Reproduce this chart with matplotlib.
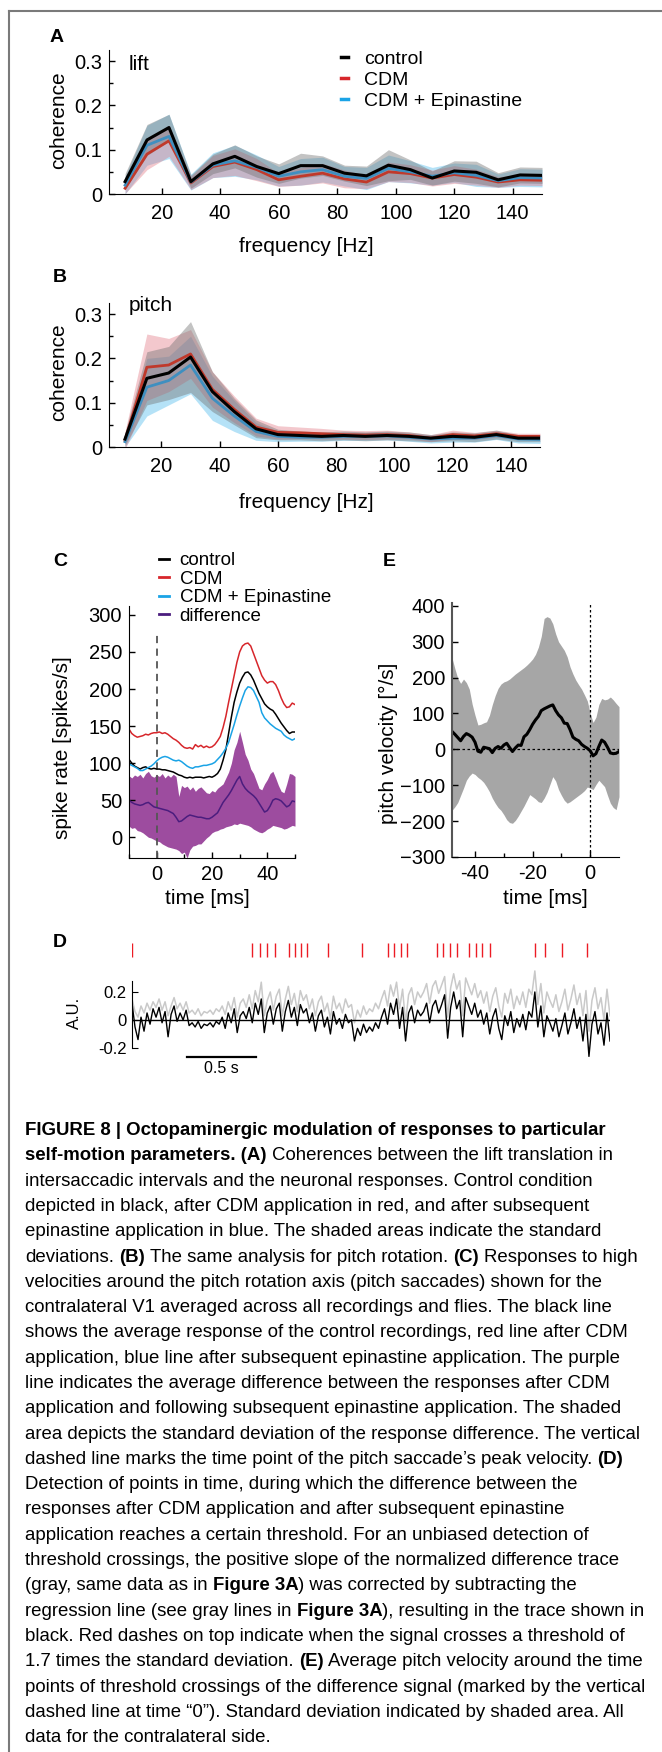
import numpy as np
import matplotlib
matplotlib.use("Agg")
import matplotlib.pyplot as plt
from matplotlib.lines import Line2D
from matplotlib.font_manager import FontProperties

W, H = 662, 1752
FAMILY = ["Liberation Sans", "DejaVu Sans"]
plt.rcParams["font.family"] = FAMILY

# ---- panels A / B: coherence vs frequency
freq = [7.5, 15, 22.5, 30, 37.5, 45, 52.5, 60, 67.5, 75,
        82.5, 90, 97.5, 105, 112.5, 120, 127.5, 135, 142.5, 150]

lift_control = [0.028, 0.122, 0.150, 0.028, 0.068, 0.085, 0.062, 0.046, 0.064, 0.064,
                0.047, 0.041, 0.065, 0.055, 0.036, 0.052, 0.049, 0.032, 0.043, 0.042]
lift_cdm = [0.013, 0.090, 0.120, 0.025, 0.062, 0.072, 0.055, 0.032, 0.040, 0.047,
            0.034, 0.027, 0.050, 0.046, 0.036, 0.044, 0.038, 0.027, 0.032, 0.031]
lift_epi = [0.020, 0.110, 0.130, 0.027, 0.065, 0.075, 0.060, 0.040, 0.050, 0.055,
            0.040, 0.035, 0.058, 0.050, 0.040, 0.048, 0.042, 0.030, 0.037, 0.036]
lift_sd_control = [0.018, 0.035, 0.030, 0.015, 0.022, 0.026, 0.024, 0.022, 0.028, 0.022,
                   0.018, 0.022, 0.035, 0.022, 0.016, 0.023, 0.025, 0.016, 0.018, 0.018]
lift_sd_cdm = [0.012, 0.035, 0.035, 0.015, 0.025, 0.030, 0.025, 0.015, 0.020, 0.022,
               0.020, 0.015, 0.022, 0.020, 0.018, 0.020, 0.018, 0.012, 0.012, 0.012]
lift_sd_epi = [0.020, 0.045, 0.050, 0.018, 0.028, 0.035, 0.028, 0.022, 0.030, 0.028,
               0.022, 0.025, 0.030, 0.025, 0.020, 0.022, 0.025, 0.015, 0.020, 0.020]

pitch_control = [0.018, 0.155, 0.167, 0.203, 0.125, 0.080, 0.041, 0.028, 0.026, 0.024,
                 0.026, 0.024, 0.026, 0.024, 0.020, 0.024, 0.022, 0.028, 0.020, 0.020]
pitch_cdm = [0.015, 0.180, 0.185, 0.210, 0.130, 0.085, 0.045, 0.033, 0.032, 0.030,
             0.028, 0.027, 0.028, 0.026, 0.020, 0.028, 0.025, 0.030, 0.024, 0.024]
pitch_epi = [0.012, 0.135, 0.150, 0.185, 0.110, 0.070, 0.035, 0.024, 0.022, 0.022,
             0.024, 0.024, 0.025, 0.022, 0.018, 0.020, 0.020, 0.026, 0.018, 0.017]
pitch_sd_control = [0.015, 0.060, 0.060, 0.080, 0.045, 0.030, 0.020, 0.012, 0.010, 0.010,
                    0.010, 0.010, 0.010, 0.010, 0.008, 0.010, 0.010, 0.010, 0.008, 0.008]
pitch_sd_cdm = [0.020, 0.075, 0.060, 0.055, 0.040, 0.030, 0.020, 0.015, 0.013, 0.012,
                0.010, 0.010, 0.010, 0.008, 0.008, 0.010, 0.008, 0.008, 0.007, 0.007]
pitch_sd_epi = [0.012, 0.065, 0.055, 0.065, 0.050, 0.035, 0.020, 0.012, 0.009, 0.009,
                0.009, 0.009, 0.009, 0.009, 0.009, 0.009, 0.009, 0.009, 0.009, 0.009]

# ---- panel C: spike rate around pitch saccades, 1 ms steps from -10 to 50 ms
c_time = np.arange(-10, 51)
c_control = [105, 100, 96, 94, 92, 94, 95, 93, 92, 93,
             92, 92, 91, 91, 90, 89, 88, 86, 84, 83,
             81, 80, 81, 80, 81, 81, 81, 80, 81, 82,
             81, 83, 86, 92, 104, 118, 140, 162, 182, 196,
             208, 216, 222, 223, 219, 212, 203, 194, 187, 180,
             176, 173, 171, 166, 160, 154, 149, 144, 140, 142, 142]
c_cdm = [146, 140, 137, 135, 136, 137, 139, 138, 140, 141,
         141, 142, 140, 141, 139, 136, 133, 131, 128, 124,
         121, 120, 121, 119, 125, 122, 124, 121, 123, 121,
         122, 125, 130, 136, 148, 163, 182, 200, 218, 236,
         250, 258, 261, 262, 258, 248, 238, 228, 218, 212,
         208, 210, 210, 206, 198, 188, 180, 175, 176, 181, 179]
c_epi = [99, 97, 95, 93, 90, 90, 92, 94, 96, 99,
         103, 106, 108, 109, 108, 106, 104, 103, 104, 102,
         99, 96, 94, 93, 95, 95, 96, 97, 97, 98,
         99, 101, 105, 109, 114, 120, 128, 140, 152, 165,
         177, 188, 198, 203, 202, 198, 190, 182, 168, 161,
         157, 153, 150, 147, 145, 143, 138, 135, 133, 131, 133]
c_diff = [50, 47, 45, 44, 43, 44, 46, 47, 44, 41,
          40, 39, 38, 37, 36, 34, 32, 27, 21, 22,
          25, 28, 30, 29, 28, 27, 27, 26, 25, 25,
          27, 30, 33, 40, 47, 52, 57, 63, 70, 77,
          82, 72, 66, 62, 59, 56, 52, 46, 40, 34,
          36, 42, 50, 52, 51, 49, 45, 41, 43, 49, 48]
c_diff_hi = [83, 80, 84, 82, 85, 80, 86, 89, 83, 81,
             84, 82, 86, 80, 84, 81, 85, 82, 55, 70,
             67, 69, 64, 68, 62, 66, 68, 64, 60, 59,
             63, 61, 66, 69, 72, 80, 88, 100, 118, 128,
             143, 128, 112, 104, 92, 86, 76, 66, 64, 72,
             78, 86, 89, 80, 70, 62, 60, 72, 86, 85, 82]
c_diff_lo = [15, 12, 13, 9, 8, 6, 3, 0, -1, -3,
             -5, -6, -9, -11, -13, -14, -15, -16, -18, -22,
             -20, -28, -17, -12, -11, -9, -9, -5, -1, 2,
             6, 8, 9, 11, 12, 14, 15, 16, 18, 17,
             19, 18, 17, 16, 14, 11, 9, 7, 6, 8,
             11, 13, 16, 15, 14, 13, 11, 12, 14, 16, 15]

# ---- panel E: pitch velocity around threshold crossings, 1 ms steps from -48 to 10 ms
e_time = np.arange(-48, 11)
e_mean = [50, 42, 33, 24, 36, 44, 40, 34, 20, -5,
          -8, 6, 4, 2, -9, 3, 8, 3, 12, 17,
          5, -6, 4, 12, 11, 35, 42, 55, 70, 82,
          92, 108, 113, 117, 121, 124, 108, 96, 88, 73,
          72, 55, 34, 28, 24, 14, 8, 3, -4, -18,
          -12, 8, 26, 20, 6, -10, -12, -11, -6]
e_upper = [255, 225, 198, 184, 196, 186, 168, 126, 95, 68,
           70, 74, 77, 95, 125, 150, 170, 182, 188, 191,
           196, 203, 210, 216, 222, 228, 235, 243, 252, 265,
           285, 315, 365, 370, 366, 350, 322, 300, 288, 276,
           258, 230, 210, 193, 180, 168, 152, 135, 100, 75,
           90, 125, 142, 138, 140, 146, 138, 128, 119]
e_lower = [-170, -160, -148, -128, -108, -86, -74, -66, -70, -78,
           -84, -92, -104, -118, -136, -150, -162, -170, -182, -196,
           -204, -206, -198, -186, -172, -158, -142, -126, -132, -138,
           -146, -148, -136, -120, -98, -76, -88, -112, -128, -142,
           -150, -146, -140, -134, -128, -122, -115, -105, -108, -112,
           -98, -86, -95, -104, -128, -150, -162, -168, -132]

# ---- panel D: normalized difference trace (gray) and detrended trace (black)
d_black = [0.12, -0.05, -0.14, 0.02, -0.08, 0.05, -0.03, 0.08,
           0.02, 0.09, -0.02, 0.06, -0.12, 0.04, 0.10, -0.01, 0.05, 0.00, 0.07,
           -0.04, -0.02, -0.05, -0.01, -0.06, -0.03, -0.04, -0.02, -0.05, -0.01, -0.03,
           0.02, -0.06, 0.05, -0.02, 0.08, -0.09, 0.03,
           0.06, 0.01, 0.09, -0.02, 0.12, 0.04, 0.15,
           -0.09, 0.05, 0.10, -0.03, 0.08,
           0.12, -0.08, 0.06, 0.14, 0.02, 0.09, -0.04, 0.11, 0.05, 0.08,
           -0.02, 0.05, -0.08, 0.03, 0.07, -0.05, 0.02, -0.10, 0.06, -0.03, 0.01, -0.06, 0.04, -0.02, 0.00,
           -0.15, -0.06, -0.11, -0.03, -0.09, -0.05,
           -0.08, -0.02, -0.06, 0.02,
           0.08, -0.03, 0.12, 0.04, 0.15, -0.06, 0.09, -0.15, 0.05, 0.10, -0.02, 0.07, 0.03,
           0.06, 0.12, -0.02, 0.10, 0.14, 0.05, 0.11, 0.18, -0.13, 0.09,
           0.20, 0.08, 0.14, -0.12, 0.16, 0.10, 0.04, 0.12, 0.02, 0.07,
           -0.03, 0.05, -0.10, 0.02, 0.08, -0.06, -0.14, 0.03, -0.04, 0.06, -0.09, 0.01, -0.05, 0.04,
           -0.07, 0.06, 0.02, 0.20, -0.05, 0.10, -0.12, 0.03, -0.02,
           -0.08, 0.01, -0.12, -0.04, 0.05, -0.10, -0.02, 0.08, -0.06, 0.02,
           -0.15, 0.04, -0.26, -0.03, 0.06, -0.10, -0.02, -0.18, 0.05, -0.15]
d_gray = [0.15, 0.06, 0.02, 0.10, 0.05, 0.12, 0.07, 0.13,
          0.09, 0.15, 0.07, 0.13, 0.03, 0.10, 0.16, 0.08, 0.12, 0.07, 0.13,
          0.05, 0.07, 0.04, 0.08, 0.03, 0.06, 0.05, 0.07, 0.04, 0.08, 0.06,
          0.10, 0.04, 0.13, 0.07, 0.16, 0.02, 0.12,
          0.15, 0.09, 0.18, 0.08, 0.21, 0.13, 0.27,
          0.03, 0.14, 0.20, 0.07, 0.17,
          0.22, 0.03, 0.15, 0.24, 0.11, 0.19, 0.06, 0.21, 0.14, 0.18,
          0.08, 0.15, 0.03, 0.13, 0.17, 0.06, 0.12, 0.01, 0.17, 0.08, 0.12, 0.05, 0.15, 0.09, 0.11,
          -0.02, 0.07, 0.02, 0.10, 0.04, 0.08,
          0.06, 0.12, 0.08, 0.15,
          0.21, 0.10, 0.25, 0.17, 0.27, 0.08, 0.22, -0.02, 0.18, 0.23, 0.11, 0.20, 0.16,
          0.20, 0.26, 0.12, 0.24, 0.28, 0.19, 0.25, 0.31, 0.02, 0.23,
          0.33, 0.22, 0.28, 0.03, 0.30, 0.24, 0.18, 0.26, 0.16, 0.21,
          0.12, 0.20, 0.06, 0.17, 0.23, 0.10, 0.02, 0.19, 0.12, 0.22, 0.08, 0.17, 0.11, 0.20,
          0.09, 0.22, 0.18, 0.35, 0.11, 0.26, 0.05, 0.20, 0.14,
          0.09, 0.18, 0.06, 0.13, 0.22, 0.07, 0.15, 0.25, 0.11, 0.19,
          0.03, 0.21, -0.08, 0.14, 0.23, 0.08, 0.16, 0.00, 0.22, 0.03]
d_duration = 3.46  # seconds shown
d_crossings = [0.0, 0.87, 0.93, 0.98, 1.035, 1.14, 1.18, 1.22, 1.27, 1.42,
               1.665, 1.85, 1.90, 1.95, 1.99, 2.21, 2.25, 2.30, 2.35, 2.44,
               2.49, 2.53, 2.59, 2.92, 2.99, 3.11, 3.29]

caption = [
    "**FIGURE 8 | Octopaminergic modulation of responses to particular**",
    "**self-motion parameters. (A)** Coherences between the lift translation in",
    "intersaccadic intervals and the neuronal responses. Control condition",
    "depicted in black, after CDM application in red, and after subsequent",
    "epinastine application in blue. The shaded areas indicate the standard",
    "deviations. **(B)** The same analysis for pitch rotation. **(C)** Responses to high",
    "velocities around the pitch rotation axis (pitch saccades) shown for the",
    "contralateral V1 averaged across all recordings and flies. The black line",
    "shows the average response of the control recordings, red line after CDM",
    "application, blue line after subsequent epinastine application. The purple",
    "line indicates the average difference between the responses after CDM",
    "application and following subsequent epinastine application. The shaded",
    "area depicts the standard deviation of the response difference. The vertical",
    "dashed line marks the time point of the pitch saccade\u2019s peak velocity. **(D)**",
    "Detection of points in time, during which the difference between the",
    "responses after CDM application and after subsequent epinastine",
    "application reaches a certain threshold. For an unbiased detection of",
    "threshold crossings, the positive slope of the normalized difference trace",
    "(gray, same data as in **Figure 3A**) was corrected by subtracting the",
    "regression line (see gray lines in **Figure 3A**), resulting in the trace shown in",
    "black. Red dashes on top indicate when the signal crosses a threshold of",
    "1.7 times the standard deviation. **(E)** Average pitch velocity around the time",
    "points of threshold crossings of the difference signal (marked by the vertical",
    "dashed line at time \u201c0\u201d). Standard deviation indicated by shaded area. All",
    "data for the contralateral side.",
]

RED = "#d7262b"
BLUE = "#1aa3e6"
PURPLE_LINE = "#4b1d7e"
PURPLE_FILL = "#9d4c9f"
TICK = 14.5
LABEL = 15


def px_axes(fig, left, top, right, bottom):
    return fig.add_axes([left / W, 1 - bottom / H, (right - left) / W, (bottom - top) / H])


def ftext(fig, x, y, s, **kw):
    kw.setdefault("ha", "center")
    kw.setdefault("va", "center")
    return fig.text(x / W, 1 - y / H, s, **kw)


def clean(ax, tick_size=TICK):
    ax.spines["top"].set_visible(False)
    ax.spines["right"].set_visible(False)
    ax.tick_params(which="both", direction="in", labelsize=tick_size, pad=5, width=1)
    ax.tick_params(which="major", length=4)
    ax.tick_params(which="minor", length=3)


def coherence_panel(ax, control, cdm, epi, sd_control, sd_cdm, sd_epi):
    f = np.array(freq)
    control, cdm, epi = np.array(control), np.array(cdm), np.array(epi)
    sd_control, sd_cdm, sd_epi = np.array(sd_control), np.array(sd_cdm), np.array(sd_epi)
    ax.plot(f, cdm, color="#c0392b", lw=2)
    ax.plot(f, epi, color="#3f8fc0", lw=2)
    ax.fill_between(f, epi - sd_epi, epi + sd_epi, color="#5cc0ee", alpha=0.45, lw=0)
    ax.fill_between(f, cdm - sd_cdm, cdm + sd_cdm, color="#e0707c", alpha=0.38, lw=0)
    ax.fill_between(f, control - sd_control, control + sd_control, color="#707070", alpha=0.42, lw=0)
    ax.plot(f, control, color="k", lw=2.2)
    ax.set_xlim(2, 150)
    ax.set_ylim(0, 0.325)
    ax.set_xticks([20, 40, 60, 80, 100, 120, 140])
    ax.set_yticks([0, 0.1, 0.2, 0.3])
    ax.set_yticklabels(["0", "0.1", "0.2", "0.3"])
    ax.set_yticks([0.05, 0.15, 0.25], minor=True)
    clean(ax)
    ax.tick_params(axis="x", pad=7)


fig = plt.figure(figsize=(W / 100, H / 100), dpi=100)

# frame of the figure page
fig.add_artist(Line2D([9 / W, 9 / W], [0, 1 - 11 / H], transform=fig.transFigure, color="#7a7a7a", lw=1.5))
fig.add_artist(Line2D([9 / W, 1], [1 - 11 / H, 1 - 11 / H], transform=fig.transFigure, color="#7a7a7a", lw=1.5))

# ---- A
ax_a = px_axes(fig, 109, 50, 542, 194)
coherence_panel(ax_a, lift_control, lift_cdm, lift_epi, lift_sd_control, lift_sd_cdm, lift_sd_epi)
ax_a.text(0.046, 0.9, "lift", transform=ax_a.transAxes, fontsize=LABEL, va="center")
handles = [Line2D([], [], color="k", lw=2.5), Line2D([], [], color=RED, lw=2.5),
           Line2D([], [], color=BLUE, lw=2.5)]
ax_a.legend(handles, ["control", "CDM", "CDM + Epinastine"], loc="upper left",
            bbox_to_anchor=(0.535, 1.0), frameon=False, fontsize=14, handlelength=0.4,
            handletextpad=0.8, labelspacing=0.18, borderpad=0, borderaxespad=0)
ftext(fig, 306, 247, "frequency [Hz]", fontsize=LABEL)
ftext(fig, 59, 120, "coherence", fontsize=LABEL, rotation=90)
ftext(fig, 57, 37, "A", fontsize=14, fontweight="bold")

# ---- B
ax_b = px_axes(fig, 109, 303, 540, 447)
coherence_panel(ax_b, pitch_control, pitch_cdm, pitch_epi, pitch_sd_control, pitch_sd_cdm, pitch_sd_epi)
ax_b.text(0.046, 0.985, "pitch", transform=ax_b.transAxes, fontsize=LABEL, va="center")
ftext(fig, 306, 503, "frequency [Hz]", fontsize=LABEL)
ftext(fig, 59, 372, "coherence", fontsize=LABEL, rotation=90)
ftext(fig, 60, 277, "B", fontsize=14, fontweight="bold")

# ---- C
ax_c = px_axes(fig, 129, 606, 295, 858)
ax_c.fill_between(c_time, c_diff_lo, c_diff_hi, color=PURPLE_FILL, lw=0)
ax_c.axvline(0, ymin=0, ymax=0.89, color="#555555", ls=(0, (4, 3)), lw=1.3)
ax_c.plot(c_time, c_control, color="k", lw=1.1)
ax_c.plot(c_time, c_cdm, color=RED, lw=1.1)
ax_c.plot(c_time, c_epi, color=BLUE, lw=1.1)
ax_c.plot(c_time, c_diff, color=PURPLE_LINE, lw=1.1)
ax_c.set_xlim(-10, 50)
ax_c.set_ylim(-28, 312)
ax_c.set_xticks([0, 20, 40])
ax_c.set_xticks([-10, 10, 30, 50], minor=True)
ax_c.set_yticks([0, 50, 100, 150, 200, 250, 300])
clean(ax_c)
handles = [Line2D([], [], color="k", lw=2), Line2D([], [], color=RED, lw=2),
           Line2D([], [], color=BLUE, lw=2), Line2D([], [], color=PURPLE_LINE, lw=2)]
fig.legend(handles, ["control", "CDM", "CDM + Epinastine", "difference"], loc="upper left",
           bbox_to_anchor=(159 / W, 1 - 552 / H), frameon=False, fontsize=13.5,
           handlelength=0.55, handletextpad=0.55, labelspacing=0.08, borderpad=0,
           borderaxespad=0)
ftext(fig, 207, 898, "time [ms]", fontsize=LABEL)
ftext(fig, 63, 748, "spike rate [spikes/s]", fontsize=LABEL, rotation=90)
ftext(fig, 60, 562, "C", fontsize=14, fontweight="bold")

# ---- E
ax_e = px_axes(fig, 452, 603, 619, 857)
ax_e.fill_between(e_time, e_lower, e_upper, color="#a6a6a6", lw=0)
ax_e.axhline(0, color="k", ls=(0, (2, 2)), lw=0.9)
ax_e.axvline(0, color="k", ls=(0, (2, 2)), lw=0.9)
ax_e.plot(e_time, e_mean, color="k", lw=2.2)
ax_e.set_xlim(-48, 10)
ax_e.set_ylim(-300, 408)
ax_e.set_xticks([-40, -20, 0])
ax_e.set_xticklabels(["-40", "-20", "0"])
ax_e.set_xticks([-30, -10], minor=True)
ax_e.set_yticks([-300, -200, -100, 0, 100, 200, 300, 400])
clean(ax_e)
ax_e.spines["left"].set_color("#555555")
ax_e.spines["left"].set_linewidth(1.5)
ftext(fig, 545, 898, "time [ms]", fontsize=LABEL)
ftext(fig, 388, 743, "pitch velocity [\u00b0/s]", fontsize=LABEL, rotation=90)
ftext(fig, 389, 562, "E", fontsize=14, fontweight="bold")

# ---- D
ax_d = px_axes(fig, 132, 940, 610, 1076)
d_time = np.linspace(0, d_duration, len(d_black))
ax_d.plot(d_time, d_gray, color="#c9c9c9", lw=1.1)
ax_d.axhline(0, color="k", lw=1)
ax_d.plot(d_time, d_black, color="k", lw=1)
ax_d.vlines(d_crossings, 0.45, 0.55, color="#ec1c24", lw=1)
ax_d.plot([0.4, 0.9], [-0.265, -0.265], color="k", lw=1.6)
ax_d.text(0.65, -0.345, "0.5 s", ha="center", va="center", fontsize=11.5)
ax_d.set_xlim(0, d_duration)
ax_d.set_ylim(-0.4, 0.571)
for side in ["top", "right", "bottom"]:
    ax_d.spines[side].set_visible(False)
ax_d.spines["left"].set_bounds(-0.2, 0.28)
ax_d.set_xticks([])
ax_d.set_yticks([-0.2, 0, 0.2])
ax_d.set_yticklabels(["-0.2", "0", "0.2"])
ax_d.tick_params(direction="in", labelsize=12, length=4, pad=4)
ftext(fig, 74, 1013, "A.U.", fontsize=12, rotation=90)
ftext(fig, 60, 943, "D", fontsize=14, fontweight="bold")

# ---- caption, mixed bold / regular, sized to the reference line width
renderer = fig.canvas.get_renderer()


def seg_width(s, size, bold):
    prop = FontProperties(family=FAMILY, size=size, weight="bold" if bold else "normal")
    w1, _, _ = renderer.get_text_width_height_descent("x" + s + "x", prop, ismath=False)
    w0, _, _ = renderer.get_text_width_height_descent("xx", prop, ismath=False)
    return w1 - w0


def line_width(line, size):
    return sum(seg_width(p, size, k % 2 == 1) for k, p in enumerate(line.split("**")) if p)


cap_size = 12 * 625 / line_width(caption[22], 12)
for i, line in enumerate(caption):
    x = 25.0
    y = 1135 + i * 25.3
    for k, part in enumerate(line.split("**")):
        if not part:
            continue
        bold = k % 2 == 1
        lead = len(part) - len(part.lstrip())
        x0 = x + (seg_width(part[:lead], cap_size, bold) if lead else 0)
        fig.text(x0 / W, 1 - y / H, part.strip(), fontsize=cap_size,
                 fontweight="bold" if bold else "normal", ha="left", va="baseline")
        x += seg_width(part, cap_size, bold)

fig.savefig("out.png", dpi=100)
